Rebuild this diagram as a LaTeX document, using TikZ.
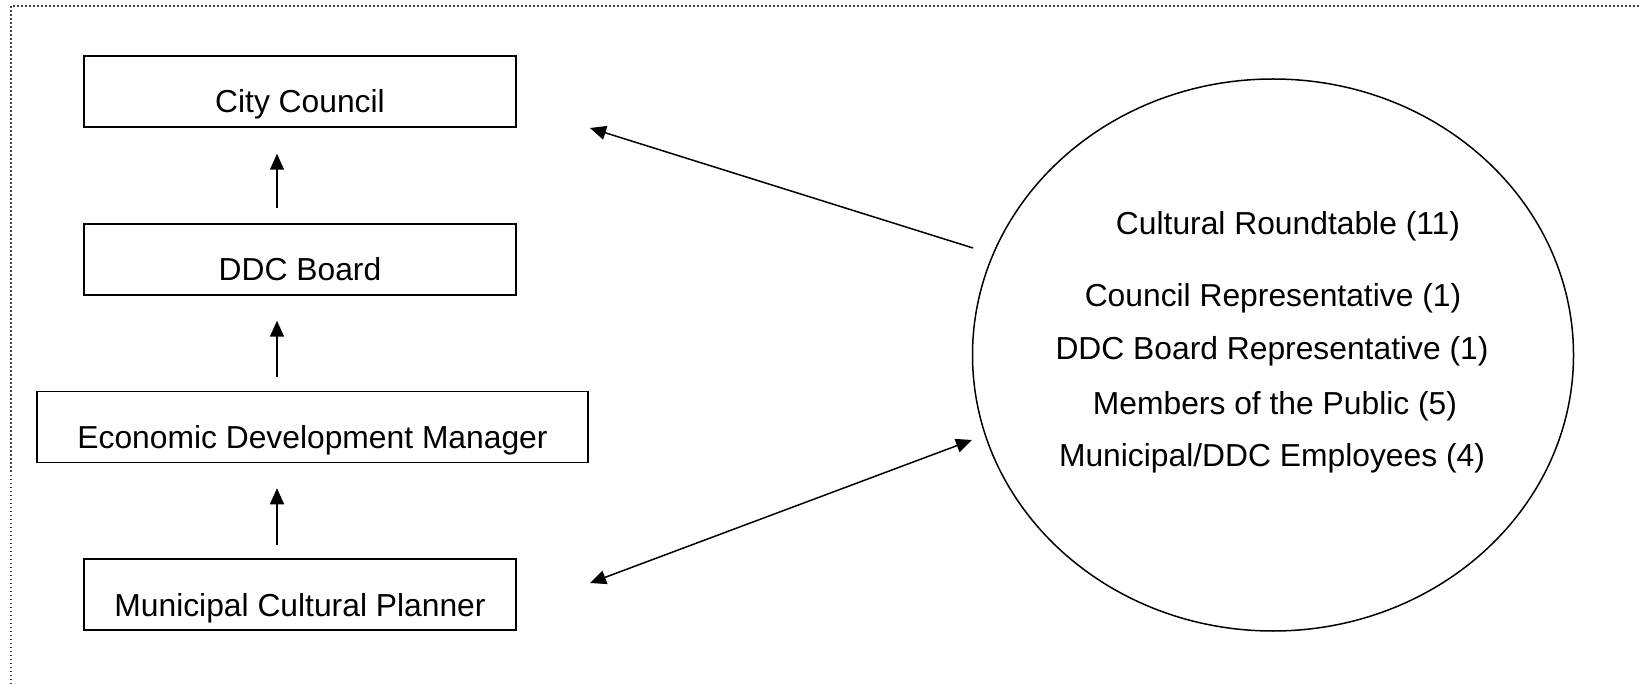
\documentclass[tikz,border=0pt]{standalone}
\usepackage{fontspec}
\setmainfont{Liberation Sans}
\usetikzlibrary{shapes.geometric,arrows.meta}
\begin{document}
\begin{tikzpicture}[x=1pt,y=-1pt,
	unit/.style={draw,line width=1.5pt,inner sep=0pt,minimum width=432pt,minimum height=71pt,
		text height=43pt,text depth=0pt,font=\fontsize{31.8}{36}\selectfont},
	member/.style={anchor=base,inner sep=0pt,font=\fontsize{31.8}{36}\selectfont},
	link/.style={line width=1.5pt,-{Triangle[length=16pt,width=14pt]}},
	twoway/.style={line width=1.5pt,{Triangle[length=16pt,width=14pt]}-{Triangle[length=16pt,width=14pt]}}]
	\useasboundingbox (0,0) rectangle (1639,684);
	\draw[black!75,line width=1.2pt,dash pattern=on 1.5pt off 2.5pt] (11,684) -- (11,6) -- (1639,6);
	\node[unit] (council) at (300,91.5) {City Council};
	\node[unit] (board) at (300,259.5) {DDC Board};
	\node[unit,minimum width=551pt] (manager) at (312.5,427) {Economic Development Manager};
	\node[unit] (planner) at (300,594.5) {Municipal Cultural Planner};
	\draw[link,shorten <=15pt,shorten >=26pt] ([xshift=-23pt]board.north) -- ([xshift=-23pt]council.south);
	\draw[link,shorten <=14pt,shorten >=25pt] ([xshift=-35.5pt]manager.north) -- ([xshift=-23pt]board.south);
	\draw[link,shorten <=13pt,shorten >=25pt] ([xshift=-23pt]planner.north) -- ([xshift=-35.5pt]manager.south);
	\node[draw,ellipse,line width=1.5pt,inner sep=0pt,minimum width=601pt,minimum height=552pt] (roundtable) at (1273,355) {};
	\node[member] (total) at (1288,235) {Cultural Roundtable (11)};
	\node[member] (rep) at (1273,307) {Council Representative (1)};
	\node[member] (boardrep) at (1272,360) {DDC Board Representative (1)};
	\node[member] (public) at (1275,415) {Members of the Public (5)};
	\node[member] (staff) at (1272,466) {Municipal/DDC Employees (4)};
	\coordinate (rtout) at (973,248);
	\coordinate (ccin) at (590,128);
	\coordinate (rtin) at (972,440);
	\coordinate (mcpin) at (590,583);
	\draw[link] (rtout) -- (ccin);
	\draw[twoway] (mcpin) -- (rtin);
\end{tikzpicture}
\end{document}
